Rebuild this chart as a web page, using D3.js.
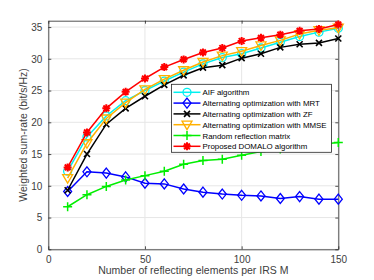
<!DOCTYPE html>
<html>
<head>
<meta charset="utf-8">
<script src="https://cdn.jsdelivr.net/npm/d3@7"></script>
<style>
  body { margin: 0; background: #fff; }
  text { font-family: "Liberation Sans", Arial, sans-serif; }
</style>
</head>
<body>
<script>
// data
var mValues = [10, 20, 30, 40, 50, 60, 70, 80, 90, 100, 110, 120, 130, 140, 150];
var aifRate    = [12.3, 17.7, 21.0, 23.4, 25.0, 26.5, 27.9, 29.2, 30.2, 30.8, 31.7, 32.6, 33.5, 34.2, 34.8];
var mrtRate    = [9.1, 12.2, 12.0, 11.4, 10.4, 10.3, 9.5, 9.0, 8.7, 8.5, 8.4, 8.0, 8.3, 7.9, 7.9];
var zfRate     = [9.3, 15.0, 19.7, 22.2, 24.1, 25.9, 27.4, 28.6, 29.0, 30.1, 30.8, 31.8, 32.3, 32.5, 33.2];
var mmseRate   = [11.2, 16.7, 20.6, 23.1, 25.2, 26.8, 28.2, 29.5, 30.5, 31.2, 32.1, 32.9, 33.9, 34.5, 34.9];
var randomRate = [6.7, 8.6, 9.9, 10.9, 11.6, 12.3, 13.4, 14.0, 14.2, 14.8, 15.4, 15.8, 16.1, 16.5, 16.8];
var domaloRate = [12.9, 18.4, 22.2, 24.8, 26.9, 28.7, 29.9, 31.0, 31.7, 32.8, 33.3, 33.8, 34.4, 34.7, 35.4];

var seriesNames = ["AIF algorithm", "Alternating optimization with MRT", "Alternating optimization with ZF",
  "Alternating optimization with MMSE", "Random reflection matrix", "Proposed DOMALO algorithm"];
var xTicks = [0, 50, 100, 150];
var yTicks = [0, 5, 10, 15, 20, 25, 30, 35];

var series = [
  { name: seriesNames[0], values: aifRate,    color: "#00f0f0", marker: "circle" },
  { name: seriesNames[1], values: mrtRate,    color: "#0000ff", marker: "diamond" },
  { name: seriesNames[2], values: zfRate,     color: "#000000", marker: "cross" },
  { name: seriesNames[3], values: mmseRate,   color: "#ffb000", marker: "triangle" },
  { name: seriesNames[4], values: randomRate, color: "#00ee00", marker: "plus" },
  { name: seriesNames[5], values: domaloRate, color: "#ff0000", marker: "star" }
];

var width = 374, height = 280;
var margin = { left: 48.3, right: 35.7, top: 20.7, bottom: 30.7 };

var svg = d3.select("body").append("svg")
    .attr("width", width)
    .attr("height", height);

var x = d3.scaleLinear().domain([0, 150]).range([margin.left, width - margin.right]);
var y = d3.scaleLinear().domain([0, 36]).range([height - margin.bottom, margin.top]);

// grid
svg.append("g").selectAll("line.gx")
  .data(xTicks).enter().append("line")
    .attr("x1", function(d) { return x(d) }).attr("x2", function(d) { return x(d) })
    .attr("y1", y(0)).attr("y2", y(36))
    .attr("stroke", "#e6e6e6").attr("stroke-width", 1);
svg.append("g").selectAll("line.gy")
  .data(yTicks).enter().append("line")
    .attr("x1", x(0)).attr("x2", x(150))
    .attr("y1", function(d) { return y(d) }).attr("y2", function(d) { return y(d) })
    .attr("stroke", "#e6e6e6").attr("stroke-width", 1);

// axes (ticks inside, MATLAB style)
var axisColor = "#262626";
var xAxis = svg.append("g")
    .attr("transform", "translate(0," + y(0) + ")")
    .call(d3.axisBottom(x).tickValues(xTicks).tickSizeInner(-3).tickSizeOuter(0).tickPadding(7));
var yAxis = svg.append("g")
    .attr("transform", "translate(" + x(0) + ",0)")
    .call(d3.axisLeft(y).tickValues(yTicks).tickSizeInner(-3).tickSizeOuter(0).tickPadding(6));
var xAxisTop = svg.append("g")
    .attr("transform", "translate(0," + y(36) + ")")
    .call(d3.axisTop(x).tickValues(xTicks).tickSizeInner(-3).tickSizeOuter(0).tickFormat(""));
var yAxisRight = svg.append("g")
    .attr("transform", "translate(" + x(150) + ",0)")
    .call(d3.axisRight(y).tickValues(yTicks).tickSizeInner(-3).tickSizeOuter(0).tickFormat(""));

[xAxis, yAxis, xAxisTop, yAxisRight].forEach(function(g) {
  g.select(".domain").attr("stroke", axisColor).attr("stroke-width", 0.8);
  g.selectAll(".tick line").attr("stroke", axisColor).attr("stroke-width", 0.8);
  g.selectAll(".tick text").attr("fill", "#404040")
    .style("font-size", "10px").style("font-family", "Liberation Sans, Arial, sans-serif");
});

// axis titles
svg.append("text")
    .attr("x", (x(0) + x(150)) / 2)
    .attr("y", 274)
    .attr("text-anchor", "middle")
    .style("font-size", "10.5px")
    .attr("fill", "#404040")
    .text("Number of reflecting elements per IRS M");
svg.append("text")
    .attr("transform", "translate(27," + ((y(0) + y(36)) / 2) + ") rotate(-90)")
    .attr("text-anchor", "middle")
    .style("font-size", "10.5px")
    .attr("fill", "#404040")
    .text("Weighted sum-rate (bit/s/Hz)");

// markers
function drawMarker(g, type, color, cx, cy) {
  var r = 4;
  if (type == "circle") {
    g.append("circle").attr("cx", cx).attr("cy", cy).attr("r", r)
      .attr("fill", "none").attr("stroke", color).attr("stroke-width", 1.3);
  } else if (type == "diamond") {
    g.append("path")
      .attr("d", "M" + cx + "," + (cy - r - 1) + "L" + (cx + r) + "," + cy + "L" + cx + "," + (cy + r + 1) + "L" + (cx - r) + "," + cy + "Z")
      .attr("fill", "none").attr("stroke", color).attr("stroke-width", 1.3);
  } else if (type == "triangle") {
    g.append("path")
      .attr("d", "M" + (cx - r - 1) + "," + (cy - r + 0.5) + "L" + (cx + r + 1) + "," + (cy - r + 0.5) + "L" + cx + "," + (cy + r + 1) + "Z")
      .attr("fill", "none").attr("stroke", color).attr("stroke-width", 1.3);
  } else if (type == "cross") {
    var c = 3;
    g.append("path")
      .attr("d", "M" + (cx - c) + "," + (cy - c) + "L" + (cx + c) + "," + (cy + c) + "M" + (cx - c) + "," + (cy + c) + "L" + (cx + c) + "," + (cy - c))
      .attr("stroke", color).attr("stroke-width", 1.6);
  } else if (type == "plus") {
    var p = 4.5;
    g.append("path")
      .attr("d", "M" + (cx - p) + "," + cy + "L" + (cx + p) + "," + cy + "M" + cx + "," + (cy - p) + "L" + cx + "," + (cy + p))
      .attr("stroke", color).attr("stroke-width", 1.5);
  } else if (type == "star") {
    var s = 4, d = s * 0.72;
    g.append("path")
      .attr("d", "M" + (cx - s) + "," + cy + "L" + (cx + s) + "," + cy +
                 "M" + cx + "," + (cy - s) + "L" + cx + "," + (cy + s) +
                 "M" + (cx - d) + "," + (cy - d) + "L" + (cx + d) + "," + (cy + d) +
                 "M" + (cx - d) + "," + (cy + d) + "L" + (cx + d) + "," + (cy - d))
      .attr("stroke", color).attr("stroke-width", 2);
  }
}

var line = d3.line()
    .x(function(d, i) { return x(mValues[i]) })
    .y(function(d) { return y(d) });

var plotG = svg.append("g");
series.forEach(function(s) {
  var g = plotG.append("g");
  g.append("path")
    .attr("d", line(s.values))
    .attr("fill", "none")
    .attr("stroke", s.color)
    .attr("stroke-width", 1.5);
  s.values.forEach(function(v, i) {
    drawMarker(g, s.marker, s.color, x(mValues[i]), y(v));
  });
});

// legend
var legX = 171.5, legY = 84.3, legW = 160, legH = 68;
var legend = svg.append("g");
legend.append("rect")
    .attr("x", legX).attr("y", legY).attr("width", legW).attr("height", legH)
    .attr("fill", "#fff").attr("stroke", axisColor).attr("stroke-width", 0.8);
series.forEach(function(s, i) {
  var ly = 92.3 + i * 10.8;
  var g = legend.append("g");
  g.append("line")
    .attr("x1", 173.5).attr("x2", 200.5).attr("y1", ly).attr("y2", ly)
    .attr("stroke", s.color).attr("stroke-width", 1.5);
  drawMarker(g, s.marker, s.color, 187, ly);
  g.append("text")
    .attr("x", 202.5).attr("y", ly + 3)
    .style("font-size", "7.9px")
    .attr("fill", "#000")
    .text(s.name);
});
</script>
</body>
</html>
